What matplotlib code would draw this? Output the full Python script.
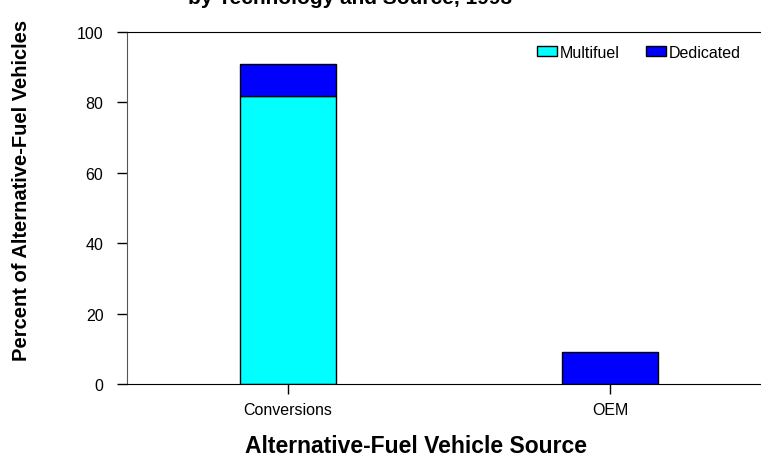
import numpy as np
import matplotlib.pyplot as plt

# percent of alternative-fuel vehicles by source
sources = ['Conversions', 'OEM']
multifuel = [81.8, 0.0]
dedicated = [9.1, 9.1]
yticks = [0, 20, 40, 60, 80, 100]

plt.rcParams['font.family'] = ['Liberation Sans', 'DejaVu Sans']

W, H = 761, 460
fig = plt.figure(figsize=(W / 100, H / 100), dpi=100)
# axes box in pixels: left 127, top 33, bottom 385, runs past right edge
ax = fig.add_axes([127 / W, (H - 385) / H, 644 / W, 352 / H])

x = np.arange(len(sources))
ax.bar(x, multifuel, 0.3, color='#00FFFF', edgecolor='black', linewidth=1,
       label='Multifuel')
ax.bar(x, dedicated, 0.3, bottom=multifuel, color='#0000FF', edgecolor='black',
       linewidth=1, label='Dedicated')

ax.set_xlim(-0.5, 1.5)
ax.set_ylim(0, 100)
ax.set_xticks(x)
ax.set_xticklabels(sources)
ax.set_yticks(yticks)
ax.tick_params(axis='both', labelsize=11.5, direction='out', length=7, width=1)
ax.tick_params(axis='y', pad=10)
ax.tick_params(axis='x', pad=6)

ax.spines['right'].set_visible(False)
ax.spines['left'].set_color('#555555')
ax.spines['top'].set_color('black')
ax.spines['bottom'].set_color('black')

# titles / labels placed where the reference has them
fig.text(350 / W, 1 - 4 / H, 'by Technology and Source, 1993',
         ha='center', va='baseline', fontsize=15, fontweight='bold')
fig.text(416 / W, 1 - 447 / H, 'Alternative-Fuel Vehicle Source',
         ha='center', va='center', fontsize=16.5, fontweight='bold')
fig.text(22 / W, 1 - 190 / H, 'Percent of Alternative-Fuel Vehicles',
         ha='center', va='center', rotation=90, fontsize=14.5, fontweight='bold')

ax.legend(loc='center left', bbox_to_anchor=(537 / W, 1 - 53 / H),
          bbox_transform=fig.transFigure, ncol=2, frameon=False,
          fontsize=11.5, handlelength=1.25, handleheight=0.55,
          handletextpad=0.2, columnspacing=1.6, borderpad=0, borderaxespad=0)

fig.savefig('out.png', dpi=100)
